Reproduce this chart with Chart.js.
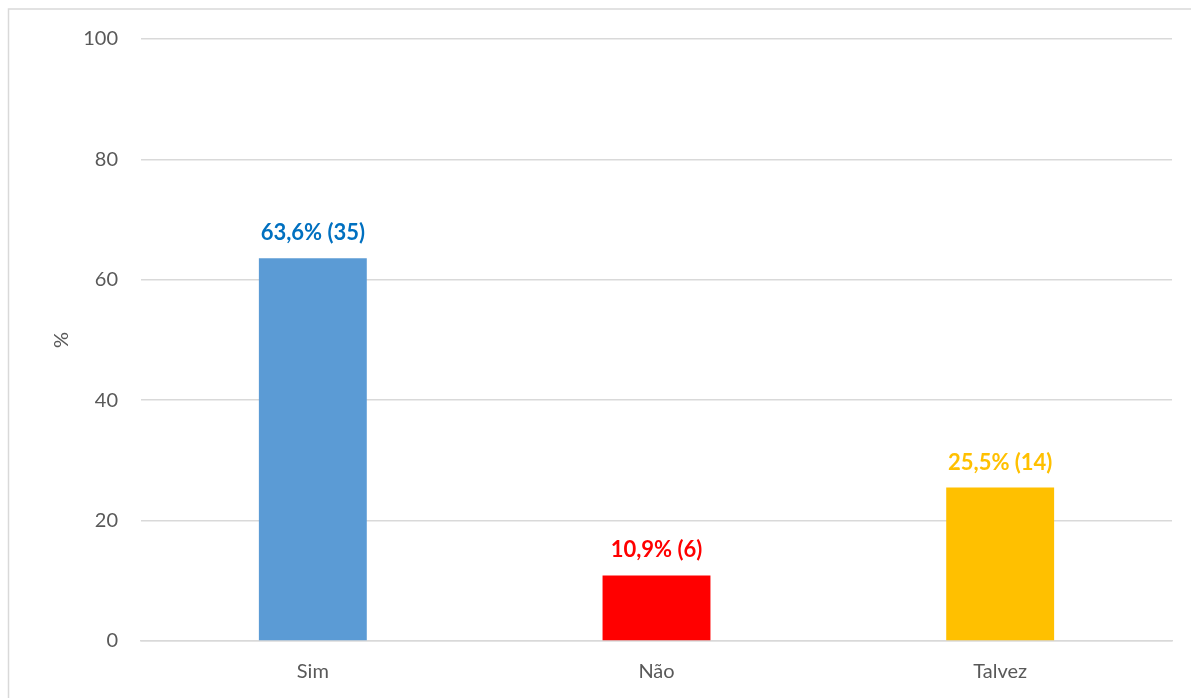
<!DOCTYPE html>
<html><head><meta charset="utf-8">
<script src="https://cdn.jsdelivr.net/npm/chart.js@4/dist/chart.umd.min.js"></script>
<style>html,body{margin:0;padding:0;background:#fff;overflow:hidden}#wrap{width:1191px;height:698px;position:relative}</style>
</head><body><div id="wrap"><canvas id="c" width="1191" height="698"></canvas></div>
<script>
const categories = ["Sim", "Não", "Talvez"];
const values = [63.6, 10.9, 25.5];
const counts = [35, 6, 14];
const valueLabels = ["63,6% (35)", "10,9% (6)", "25,5% (14)"];
const barColors = ["#5B9BD5", "#FF0000", "#FFC000"];
const labelColors = ["#0070C0", "#FF0000", "#FFC000"];
const yTicks = [0, 20, 40, 60, 80, 100];

const FONT = "Lato, 'Open Sans', sans-serif";

const borderPlugin = {
  id: 'frame',
  beforeDraw(chart) {
    const ctx = chart.ctx;
    ctx.save();
    ctx.fillStyle = '#fff';
    ctx.fillRect(0, 0, chart.width, chart.height);
    ctx.strokeStyle = '#d9d9d9';
    ctx.lineWidth = 1.5;
    ctx.strokeRect(8.5, 9, 1300, 900);
    ctx.restore();
  }
};
const labelPlugin = {
  id: 'vlabels',
  afterDatasetsDraw(chart) {
    const ctx = chart.ctx;
    const meta = chart.getDatasetMeta(0);
    ctx.save();
    ctx.font = "bold 22px " + FONT;
    ctx.textAlign = 'center';
    ctx.textBaseline = 'middle';
    meta.data.forEach((bar, i) => {
      ctx.fillStyle = labelColors[i];
      ctx.fillText(valueLabels[i], bar.x, bar.y - 25);
    });
    ctx.restore();
  }
};

new Chart(document.getElementById('c'), {
  type: 'bar',
  data: {
    labels: categories,
    datasets: [{ data: values, backgroundColor: barColors, borderWidth: 0,
      categoryPercentage: 1, barPercentage: 0.314 }]
  },
  options: {
    responsive: false, animation: false,
    devicePixelRatio: 1,
    layout: { padding: { left: 0, right: 19, top: 39, bottom: 0 } },
    plugins: { legend: { display: false }, tooltip: { enabled: false } },
    scales: {
      x: {
        grid: { display: false, drawTicks: false },
        border: { color: '#d9d9d9', width: 1.5 },
        ticks: { color: '#595959', font: { size: 20, family: FONT }, padding: 19 },
        afterFit(s) { s.height = 57; }
      },
      y: {
        min: 0, max: 100,
        afterBuildTicks(s) { s.ticks = yTicks.map(v => ({ value: v })); },
        grid: { color: '#d9d9d9', lineWidth: 1.5, drawTicks: false },
        border: { display: false },
        ticks: { color: '#595959', font: { size: 20, family: FONT }, padding: 23 },
        title: { display: true, text: '%', color: '#595959', font: { size: 20, family: FONT }, padding: { top: 50, bottom: 0 } },
        afterFit(s) { s.width = 141; }
      }
    }
  },
  plugins: [borderPlugin, labelPlugin]
});
</script></body></html>
